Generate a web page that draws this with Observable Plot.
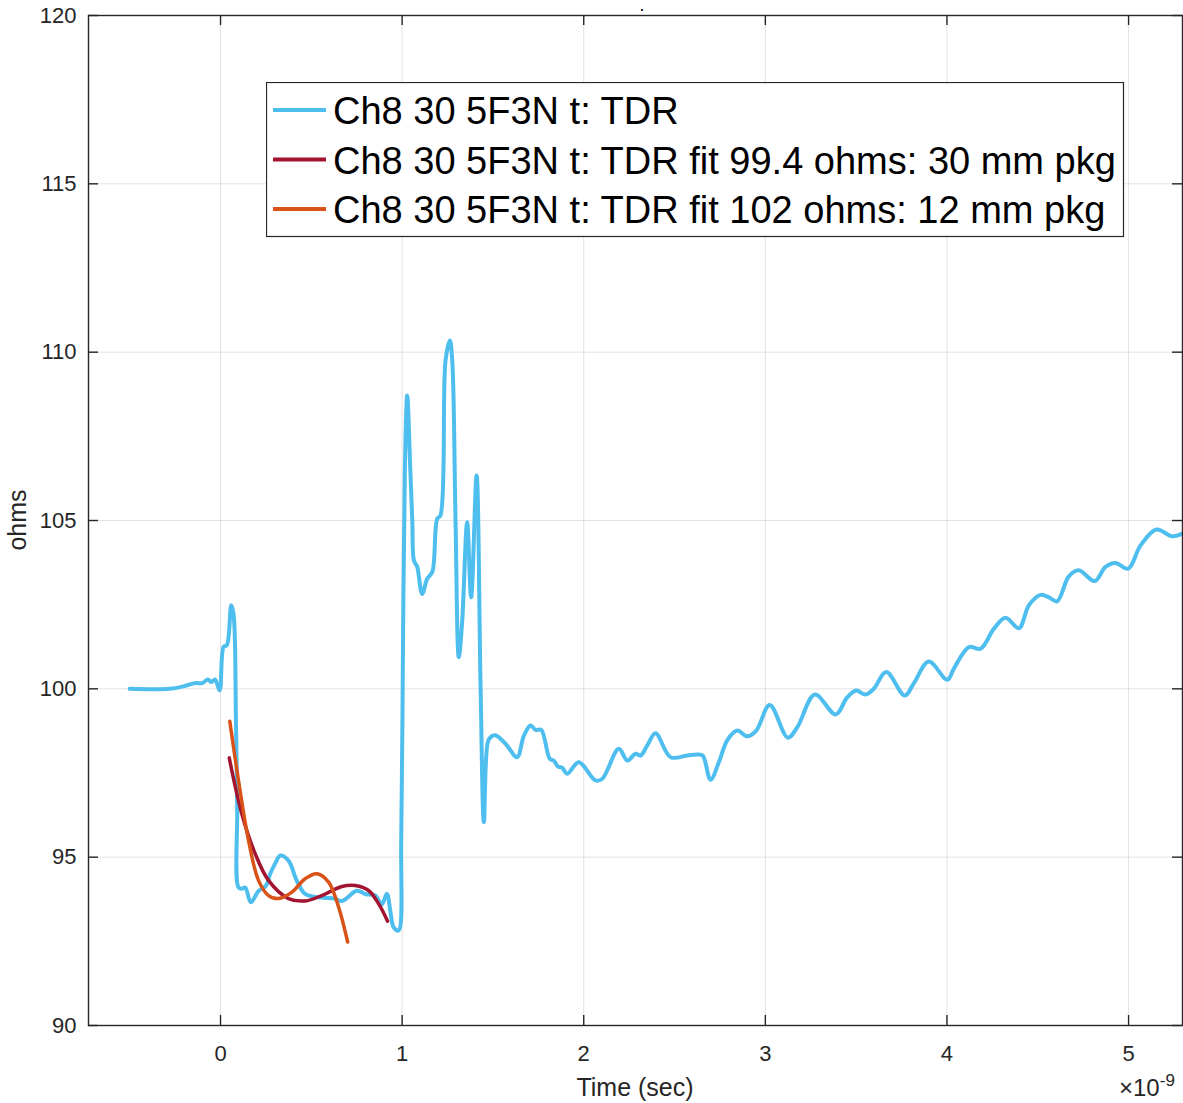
<!DOCTYPE html>
<html>
<head>
<meta charset="utf-8">
<script src="https://cdn.jsdelivr.net/npm/d3@7"></script>
<script src="https://cdn.jsdelivr.net/npm/@observablehq/plot@0.6"></script>
<style>
  html, body { margin: 0; padding: 0; background: #fff; }
  #wrap { position: relative; width: 1183px; height: 1103px; font-family: "Liberation Sans", Arial, sans-serif; }
  #legend { position: absolute; left: 266px; top: 82px; }
</style>
</head>
<body>
<div id="wrap"></div>
<script>
// Time in units of 1e-9 s (axis shows ×10^-9)
const tdrT = [-0.50,-0.28,-0.20,-0.14,-0.10,-0.07,-0.05,-0.03,-0.005,0.017,0.035,0.059,0.072,0.085,0.092,0.099,0.117,0.136,0.167,0.21,0.25,0.273,0.30,0.329,0.374,0.42,0.466,0.558,0.62,0.668,0.751,0.80,0.852,0.888,0.916,0.935,0.953,0.98,0.995,1.005,1.015,1.028,1.045,1.056,1.065,1.083,1.11,1.138,1.166,1.193,1.211,1.239,1.263,1.276,1.294,1.312,1.331,1.358,1.38,1.41,1.432,1.45,1.472,1.49,1.514,1.569,1.633,1.67,1.707,1.735,1.766,1.813,1.835,1.857,1.881,1.909,1.973,2.065,2.102,2.193,2.24,2.285,2.313,2.35,2.395,2.478,2.57,2.625,2.655,2.698,2.744,2.79,2.845,2.90,2.95,3.024,3.124,3.176,3.273,3.387,3.451,3.50,3.552,3.598,3.666,3.768,3.818,3.90,4.002,4.038,4.121,4.185,4.258,4.323,4.396,4.451,4.515,4.561,4.607,4.671,4.726,4.813,4.873,4.928,4.998,5.066,5.154,5.24,5.296];
const tdrV = [100.00,100.00,100.08,100.17,100.17,100.28,100.20,100.28,99.95,101.25,101.30,102.48,102.20,99.0,96.5,94.10,94.06,94.10,93.66,94.00,94.15,94.50,94.80,95.05,94.90,94.30,93.91,93.80,93.78,93.70,94.00,93.90,93.86,93.60,93.91,93.40,92.92,92.82,95.5,101.5,106.5,108.71,106.5,105.0,103.81,103.62,102.82,103.27,103.47,105.05,105.15,109.75,110.35,109.75,105.0,100.94,102.03,104.95,102.72,106.34,100.05,96.04,98.42,98.58,98.62,98.37,97.97,98.6,98.91,98.78,98.78,97.92,97.87,97.70,97.66,97.48,97.82,97.28,97.33,98.22,97.87,98.07,98.02,98.32,98.68,97.97,98.02,98.05,98.02,97.30,97.82,98.47,98.76,98.59,98.76,99.52,98.55,98.86,99.83,99.24,99.75,99.95,99.83,100.01,100.50,99.80,100.17,100.81,100.27,100.60,101.24,101.19,101.78,102.11,101.80,102.48,102.79,102.72,102.60,103.34,103.52,103.20,103.62,103.74,103.57,104.26,104.73,104.53,104.61];

const fit30T = [0.048,0.117,0.191,0.264,0.374,0.466,0.558,0.668,0.742,0.815,0.87,0.92];
const fit30V = [97.95,96.29,95.10,94.31,93.77,93.70,93.86,94.13,94.16,94.01,93.62,93.10];

const fit12T = [0.051,0.099,0.154,0.209,0.264,0.319,0.393,0.466,0.531,0.595,0.65,0.70];
const fit12V = [99.04,97.28,95.50,94.31,93.86,93.77,93.96,94.36,94.51,94.26,93.52,92.48];

const xTicks = [0,1,2,3,4,5];
const yTicks = [90,95,100,105,110,115,120];

const seriesNames = [
  "Ch8 30 5F3N t: TDR",
  "Ch8 30 5F3N t: TDR fit 99.4 ohms: 30 mm pkg",
  "Ch8 30 5F3N t: TDR fit 102 ohms: 12 mm pkg"
];
const seriesColors = ["#4DBEEE", "#A2142F", "#D95319"];

const toRows = (T, V) => T.map((t, i) => ({t, v: V[i]}));
const tdr = toRows(tdrT, tdrV);
const fit30 = toRows(fit30T, fit30V);
const fit12 = toRows(fit12T, fit12V);

const W = 1183, H = 1103, mL = 88, mR = 1, mT = 15, mB = 78;
const fw = W - mL - mR, fh = H - mT - mB, tk = 10;
const ink = "#262626";

const chart = Plot.plot({
  width: W, height: H,
  marginLeft: mL, marginRight: mR, marginTop: mT, marginBottom: mB,
  x: {domain: [-0.727, 5.297]},
  y: {domain: [90, 120]},
  style: {fontFamily: "'Liberation Sans', Arial, sans-serif", fontSize: "22px", color: ink, background: "white"},
  marks: [
    Plot.gridX({ticks: xTicks, stroke: ink, strokeOpacity: 0.13}),
    Plot.gridY({ticks: yTicks, stroke: ink, strokeOpacity: 0.13}),
    Plot.line(tdr, {x: "t", y: "v", stroke: seriesColors[0], strokeWidth: 4, curve: "catmull-rom", clip: true}),
    Plot.line(fit30, {x: "t", y: "v", stroke: seriesColors[1], strokeWidth: 3.5, curve: "catmull-rom", clip: true}),
    Plot.line(fit12, {x: "t", y: "v", stroke: seriesColors[2], strokeWidth: 3.5, curve: "catmull-rom", clip: true}),
    Plot.frame({stroke: ink, strokeWidth: 1.4}),
    Plot.ruleX(xTicks, {insetTop: fh - tk, stroke: ink, strokeWidth: 1.4}),
    Plot.ruleX(xTicks, {insetBottom: fh - tk, stroke: ink, strokeWidth: 1.4}),
    Plot.ruleY(yTicks, {insetRight: fw - tk, stroke: ink, strokeWidth: 1.4}),
    Plot.ruleY(yTicks, {insetLeft: fw - tk, stroke: ink, strokeWidth: 1.4}),
    Plot.axisX({ticks: xTicks, tickSize: 0, tickPadding: 20, label: null, fontSize: 22, fill: ink, tickFormat: d => String(d)}),
    Plot.axisY({ticks: yTicks, tickSize: 0, tickPadding: 12, label: null, fontSize: 22, fill: ink, tickFormat: d => String(d)})
  ]
});

const wrap = document.getElementById("wrap");
wrap.appendChild(chart);

const svg = d3.select(chart);
// axis labels
svg.append("text").attr("x", mL + fw / 2).attr("y", 1096).attr("text-anchor", "middle")
  .attr("font-size", 25).attr("fill", ink).text("Time (sec)");
svg.append("text").attr("transform", `translate(26,${mT + fh / 2}) rotate(-90)`).attr("text-anchor", "middle")
  .attr("font-size", 25).attr("fill", ink).text("ohms");
// exponent
const ex = svg.append("text").attr("x", 1119).attr("y", 1096).attr("text-anchor", "start")
  .attr("font-size", 24).attr("fill", ink);
ex.append("tspan").text("×10");
ex.append("tspan").attr("dy", -10).attr("font-size", 17).text("-9");
// title
svg.append("text").attr("x", 642).attr("y", 11).attr("text-anchor", "middle")
  .attr("font-size", 12).attr("font-weight", "bold").attr("fill", "#000").text(".");

// legend
const lg = d3.select(wrap).append("svg").attr("id", "legend").attr("width", 860).attr("height", 157);
lg.append("rect").attr("x", 0.5).attr("y", 0.5).attr("width", 857).attr("height", 154)
  .attr("fill", "white").attr("stroke", ink).attr("stroke-width", 1.2);
seriesNames.forEach((name, i) => {
  const cy = 28 + i * 49.5;
  lg.append("line").attr("x1", 7).attr("x2", 60).attr("y1", cy).attr("y2", cy)
    .attr("stroke", seriesColors[i]).attr("stroke-width", 4);
  lg.append("text").attr("x", 67).attr("y", cy + 14).attr("font-size", 38)
    .attr("font-family", "'Liberation Sans', Arial, sans-serif").attr("fill", "#000").text(name);
});
</script>
</body>
</html>
